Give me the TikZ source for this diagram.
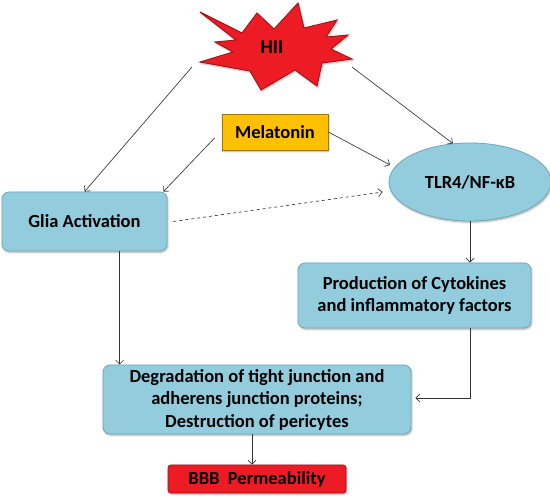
\documentclass[tikz,border=0pt]{standalone}
\usepackage{fontspec}
\setmainfont{Carlito}
\usetikzlibrary{arrows.meta,calc,shapes.geometric,shadows.blur}
\definecolor{boxblue}{HTML}{93CDDD}
\definecolor{boxblueedge}{HTML}{6FA9B9}
\definecolor{melfill}{HTML}{FFC000}
\definecolor{meledge}{HTML}{A07800}
\definecolor{redfill}{HTML}{ED1C24}
\definecolor{rededge}{HTML}{A0121A}
\definecolor{linecol}{HTML}{333333}
\tikzset{
  lbl/.style={font=\fontsize{18.5}{22.5}\selectfont\bfseries, align=center, text=black, inner sep=0pt},
  softshadow/.style={blur shadow={shadow xshift=0.8pt, shadow yshift=-1.2pt, shadow blur steps=6, shadow opacity=35}},
  bluebox/.style={lbl, rectangle, rounded corners=7pt, fill=boxblue, draw=boxblueedge, line width=0.8pt, softshadow},
  melbox/.style={lbl, rectangle, fill=melfill, draw=meledge, line width=0.9pt, softshadow},
  redbox/.style={lbl, rectangle, rounded corners=3pt, fill=redfill, draw=rededge, line width=0.8pt, softshadow},
  blueell/.style={lbl, ellipse, fill=boxblue, draw=boxblueedge, line width=0.8pt, softshadow},
  conn/.style={draw=linecol, line width=0.65pt, -{Straight Barb[length=4pt,width=8pt]}},
}
\begin{document}
\begin{tikzpicture}[x=1pt,y=-1pt]
\useasboundingbox (0,0) rectangle (550,500);
% star
\fill[redfill, draw=rededge, line width=0.9pt, softshadow]
 (200,12) -- (242,33) -- (257,13) -- (274,29) -- (298,3) -- (304,28) -- (337,20) -- (326,37)
 -- (348,35) -- (331,49) -- (352,59) -- (322,63) -- (317,86) -- (295,70) -- (261,90) -- (250,71)
 -- (200,62) -- (233,52) -- (215,42) -- (236,40) -- cycle;
\node[lbl, font=\fontsize{19.5}{22}\selectfont\bfseries, minimum width=160pt, minimum height=40pt] (hii) at (272,47) {HII};

\node[melbox, minimum width=106pt, minimum height=36pt] (mel) at (275,132) {Melatonin};
\node[bluebox, minimum width=165pt, minimum height=59pt] (glia) at (84.5,221.5) {Glia Activation};
\node[blueell, minimum width=162pt, minimum height=78pt] (tlr) at (470,182) {TLR4/NF-κB};
\node[bluebox, minimum width=233pt, minimum height=65pt] (prod) at (414.5,295.5) {Production of Cytokines\\and inflammatory factors};
\node[bluebox, minimum width=308pt, minimum height=69pt] (deg) at (257,399.5) {Degradation of tight junction and\\adherens junction proteins;\\Destruction of pericytes};
\node[redbox, minimum width=178pt, minimum height=28pt] (bbb) at (257,479) {BBB\ \ Permeability};

\coordinate (g1) at ($(glia.south west)+(118,0)$);
\coordinate (t1) at (tlr.south);

\draw[conn] (hii.south west) -- ($(glia.north west)+(83,0)$);
\draw[conn] (hii.south east) -- (tlr.114);
\draw[conn] ($(mel.west)+(-7,6)$) -- ($(glia.north east)+(-4,0)$);
\draw[conn, shorten >=5pt] (mel.east) -- (tlr.169);
\draw[conn, dashed] ($(glia.east)+(6,0)$) -- ($(tlr.west)+(-6,10)$);
\draw[conn] (t1) -- (t1 |- prod.north);
\draw[conn] (g1) -- (g1 |- deg.north);
\draw[conn] (t1 |- prod.south) |- ($(deg.east)+(4,-1.5)$);
\draw[conn] ($(deg.south)+(-5,0)$) -- ($(bbb.north)+(-5,0)$);
\end{tikzpicture}
\end{document}
